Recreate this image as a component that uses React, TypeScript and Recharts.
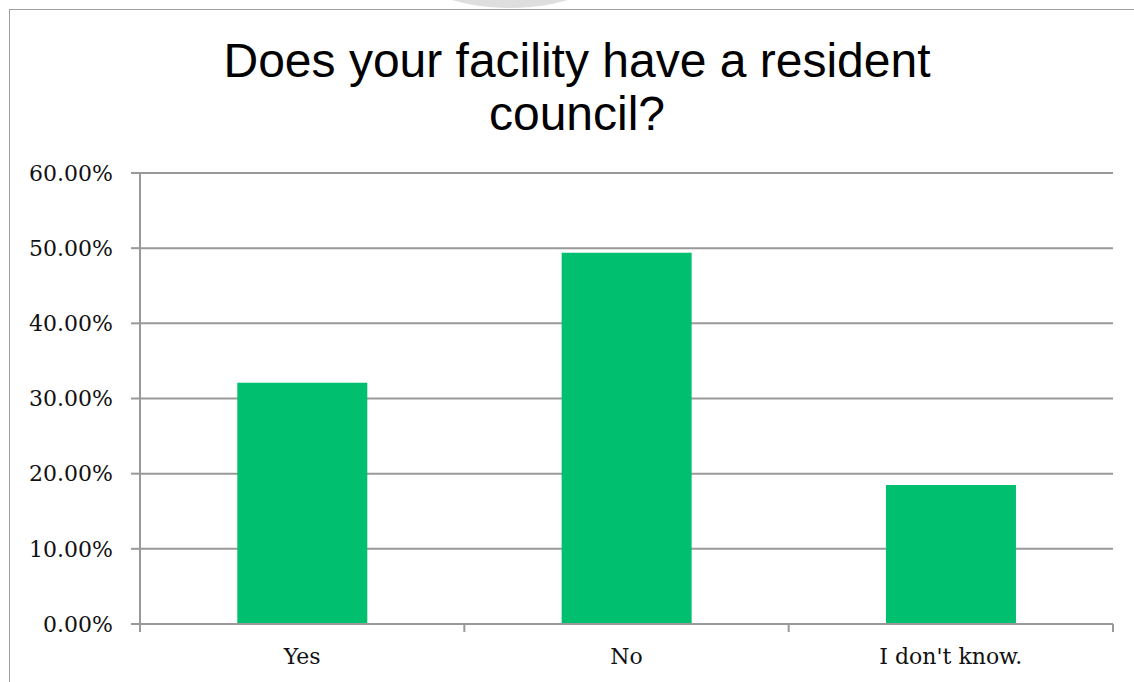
import { BarChart, Bar, XAxis, YAxis, CartesianGrid } from 'recharts';

const answers = ['Yes', 'No', "I don't know."];
const shares = [0.321, 0.494, 0.185];
const yTicks = [0, 0.1, 0.2, 0.3, 0.4, 0.5, 0.6];

const data = answers.map((answer, i) => ({ answer, share: shares[i] }));

const axisGray = '#999999';
const labelFont = '"DejaVu Serif", serif';

// category labels, with the tick marks drawn on the category edges
function EdgeTick(props: any) {
  const { x, y, payload, index, visibleTicksCount } = props;
  const half = payload?.offset ?? 0;
  const axisY = y - 24;
  const isLast = index === (visibleTicksCount ?? answers.length) - 1;
  return (
    <g>
      <line x1={x - half} x2={x - half} y1={axisY} y2={axisY + 8} stroke={axisGray} strokeWidth={2} />
      {isLast && (
        <line x1={x + half} x2={x + half} y1={axisY} y2={axisY + 8} stroke={axisGray} strokeWidth={2} />
      )}
      <text x={x} y={y} dy="0.71em" textAnchor="middle" fill="#111" fontSize={22} fontFamily={labelFont}>
        {payload.value}
      </text>
    </g>
  );
}

export default function App() {
  return (
    <div
      style={{
        position: 'fixed',
        left: 0,
        top: 0,
        width: 1134,
        height: 682,
        overflow: 'hidden',
        background: '#fff',
      }}
    >
      <div
        style={{
          position: 'absolute',
          left: 296,
          top: -420,
          width: 428,
          height: 428,
          borderRadius: '50%',
          background: '#dedede',
        }}
      />
      <div
        style={{
          position: 'absolute',
          left: 9,
          top: 9,
          width: 1200,
          height: 720,
          border: '1px solid #a0a0a0',
          background: '#fff',
        }}
      >
        <div
          style={{
            position: 'absolute',
            left: 0,
            top: 24,
            width: 1134,
            textAlign: 'center',
            fontFamily: '"Liberation Sans", Arial, sans-serif',
            fontSize: 48,
            lineHeight: '53px',
            color: '#000',
          }}
        >
          Does your facility have a resident
          <br />
          council?
        </div>
        <BarChart
          width={1124}
          height={672}
          data={data}
          margin={{ top: 163, right: 21, bottom: 8, left: 0 }}
          barCategoryGap="30%"
        >
          <CartesianGrid vertical={false} stroke={axisGray} strokeWidth={2} />
          <XAxis
            dataKey="answer"
            height={50}
            axisLine={{ stroke: axisGray, strokeWidth: 2 }}
            tickLine={false}
            tickSize={8}
            tickMargin={16}
            tick={<EdgeTick />}
            interval={0}
          />
          <YAxis
            width={130}
            domain={[0, 0.6]}
            ticks={yTicks}
            interval={0}
            axisLine={{ stroke: axisGray, strokeWidth: 2 }}
            tickLine={{ stroke: axisGray, strokeWidth: 2 }}
            tickSize={9}
            tickMargin={18}
            tick={{ fill: '#111', fontSize: 22, fontFamily: labelFont }}
            tickFormatter={(v: number) => (v * 100).toFixed(2) + '%'}
          />
          <Bar dataKey="share" fill="#00bf6f" isAnimationActive={false} />
        </BarChart>
      </div>
    </div>
  );
}
